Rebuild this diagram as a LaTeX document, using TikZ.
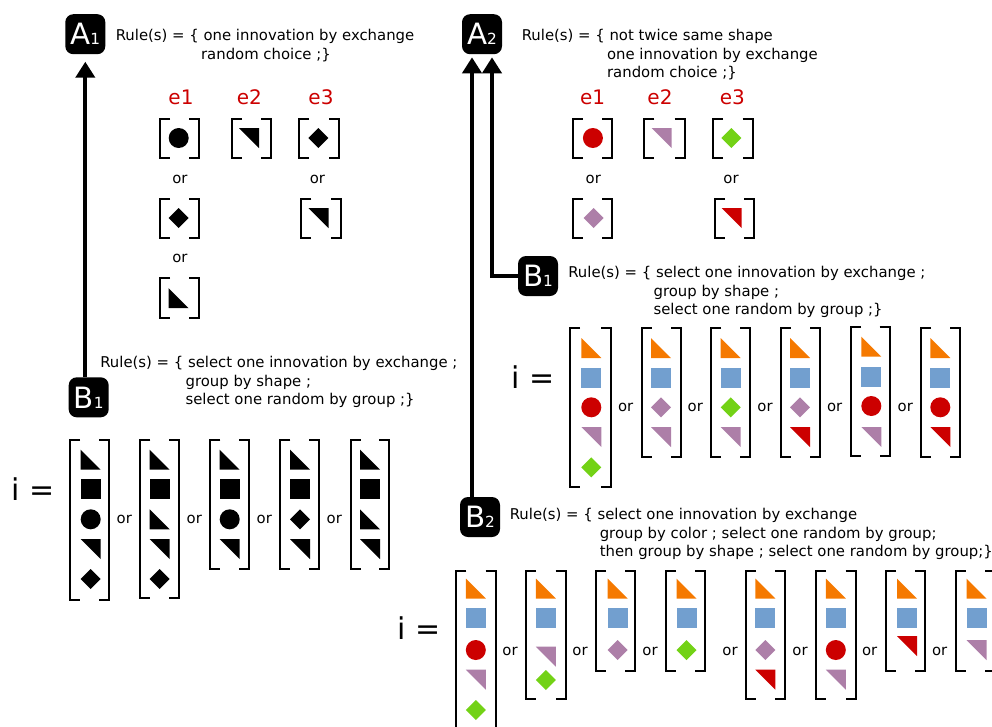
\documentclass[tikz,border=0pt]{standalone}
\usepackage{fontspec}
\setmainfont{DejaVu Sans}
\usepackage{tikz}
\usetikzlibrary{arrows.meta,positioning}
\definecolor{cOrange}{HTML}{F57900}
\definecolor{cBlue}{HTML}{729FCF}
\definecolor{cRed}{HTML}{CC0000}
\definecolor{cPurple}{HTML}{AD7FA8}
\definecolor{cGreen}{HTML}{73D216}
\newcommand{\idx}[1]{{\fontsize{11.5}{11.5}\selectfont #1}}
\tikzstyle{badge} = [rectangle, rounded corners=6pt, minimum size=30pt, inner sep=0pt, fill=black, text=white, font=\fontsize{22}{22}\selectfont]
\tikzstyle{rule} = [anchor=north west, align=left, inner sep=0pt, font=\fontsize{11.15}{13.9}\selectfont]
\tikzstyle{ortext} = [inner sep=0pt, font=\fontsize{11.15}{13.9}\selectfont]
\tikzstyle{elabel} = [inner sep=0pt, text=cRed, font=\fontsize{15}{15}\selectfont]
\tikzstyle{ilabel} = [inner sep=0pt, font=\fontsize{22.5}{22.5}\selectfont]
\tikzstyle{arrow} = [line width=3pt, -{Triangle[width=14.25pt,length=12pt]}]
\tikzstyle{bracket} = [line width=1.5pt]
\tikzstyle{blk} = [fill=black]
\tikzstyle{org} = [fill=cOrange]
\tikzstyle{blu} = [fill=cBlue]
\tikzstyle{red} = [fill=cRed]
\tikzstyle{pur} = [fill=cPurple]
\tikzstyle{grn} = [fill=cGreen]
\tikzset{
  tria/.pic={\path[pic actions] (-10,-10) -- (-10,10) -- (10,10) -- cycle;},
  trib/.pic={\path[pic actions] (-10,-10) -- (10,-10) -- (10,10) -- cycle;},
  sqr/.pic={\path[pic actions] (-10,-10) rectangle (10,10);},
  dot/.pic={\path[pic actions] (0,0) circle (7.5pt);},
  dia/.pic={\path[pic actions] (-10,0) -- (0,-10) -- (10,0) -- (0,10) -- cycle;}
}
\newcommand{\brk}[4]{%
  \draw [bracket] (#1+11,#2+1) -- (#1+1,#2+1) -- (#1+1,#4-1) -- (#1+11,#4-1);
  \draw [bracket] (#3-11,#2+1) -- (#3-1,#2+1) -- (#3-1,#4-1) -- (#3-11,#4-1);
}
\begin{document}
\begin{tikzpicture}[x=0.75pt, y=-0.75pt]
\useasboundingbox (0,0) rectangle (992,726);
\clip (0,0) rectangle (992,726);

\node (Aone) [badge] at (85.3,34.2) {A\idx{1}};
\node (Atwo) [badge] at (482,34.2) {A\idx{2}};
\node (BoneL) [badge] at (88.7,397.3) {B\idx{1}};
\node (BoneR) [badge] at (538,276) {B\idx{1}};
\node (Btwo) [badge] at (480,517) {B\idx{2}};
\coordinate (AtwoL) at (472,57.3);
\coordinate (AtwoR) at (492,57.3);
\coordinate (AoneS) at (85.3,61.7);

\draw [arrow] (BoneL.north -| AoneS) -- (AoneS);
\draw [arrow] (Btwo.north -| AtwoL) -- (AtwoL);
\draw [arrow] (BoneR.west) -| (AtwoR);

\node (ruleAone) [rule] at (115.5,29) {Rule(s) = \{ one innovation by exchange\\\hspace*{64pt}random choice ;\}};
\node (ruleAtwo) [rule] at (521.5,29) {Rule(s) = \{ not twice same shape\\\hspace*{64pt}one innovation by exchange\\\hspace*{64pt}random choice ;\}};
\node (ruleBoneL) [rule] at (100,356) {Rule(s) = \{ select one innovation by exchange ;\\\hspace*{64pt}group by shape ;\\\hspace*{64pt}select one random by group ;\}};
\node (ruleBoneR) [rule] at (568,266) {Rule(s) = \{ select one innovation by exchange ;\\\hspace*{64pt}group by shape ;\\\hspace*{64pt}select one random by group ;\}};
\node (ruleBtwo) [rule] at (509.5,508) {Rule(s) = \{ select one innovation by exchange\\\hspace*{67.5pt}group by color ; select one random by group;\\\hspace*{67.5pt}then group by shape ; select one random by group;\}};

% top left
\node (eoneL) [elabel] at (181,97) {e1};
\node (etwoL) [elabel] at (249.3,97) {e2};
\node (ethreeL) [elabel] at (321,97) {e3};
\brk{159}{117.7}{200.3}{158.7}
\brk{231}{117.7}{272}{158.7}
\brk{298}{117.7}{340}{158.7}
\brk{159}{197.7}{200.3}{238.7}
\brk{300.3}{197.7}{342}{238.7}
\brk{159}{277.3}{200.3}{318.7}
\pic [blk] at (178.7,138) {dot};
\pic [blk] at (249,138) {trib};
\pic [blk] at (318.3,138) {dia};
\pic [blk] at (178.7,218) {dia};
\pic [blk] at (318.5,218) {trib};
\pic [blk] at (178.5,298) {tria};
\node (orLa) [ortext] at (180,179) {or};
\node (orLb) [ortext] at (317.5,179) {or};
\node (orLc) [ortext] at (180,258) {or};

% bottom left
\node (iL) [ilabel] at (33,489) {i =};
\brk{69}{439.3}{110}{600.7}
\brk{139.3}{438.7}{180.3}{599.3}
\brk{209.3}{438.7}{250.3}{569.7}
\brk{279.3}{438.7}{320.3}{569.7}
\brk{349.7}{438.7}{390.3}{569.7}
\pic [blk] at (90.7,459.7) {tria};
\pic [blk] at (90.7,489.3) {sqr};
\pic [blk] at (90.7,519.3) {dot};
\pic [blk] at (90.7,549) {trib};
\pic [blk] at (90.7,579) {dia};
\pic [blk] at (159.7,459.7) {tria};
\pic [blk] at (159.7,489.3) {sqr};
\pic [blk] at (159.7,519.3) {tria};
\pic [blk] at (159.7,549) {trib};
\pic [blk] at (159.7,579) {dia};
\pic [blk] at (229.7,459.7) {tria};
\pic [blk] at (229.7,489.3) {sqr};
\pic [blk] at (229.7,519.3) {dot};
\pic [blk] at (229.7,549) {trib};
\pic [blk] at (300,459.7) {tria};
\pic [blk] at (300,489.3) {sqr};
\pic [blk] at (300,519.3) {dia};
\pic [blk] at (300,549) {trib};
\pic [blk] at (370,459.7) {tria};
\pic [blk] at (370,489.3) {sqr};
\pic [blk] at (370,519.3) {tria};
\pic [blk] at (370,549) {trib};
\node (orBa) [ortext] at (124.3,519.5) {or};
\node (orBb) [ortext] at (194.3,519.5) {or};
\node (orBc) [ortext] at (264.3,519.5) {or};
\node (orBd) [ortext] at (334.3,519.5) {or};

% top right
\node (eoneR) [elabel] at (592.6,97) {e1};
\node (etwoR) [elabel] at (660,97) {e2};
\node (ethreeR) [elabel] at (732.4,97) {e3};
\brk{571.8}{117.7}{613.3}{158.7}
\brk{643.4}{117.7}{685.6}{158.7}
\brk{712}{117.7}{753.5}{158.7}
\brk{571.8}{197.7}{613.3}{238.7}
\brk{714}{197.7}{755.2}{238.7}
\pic [red] at (592.9,138) {dot};
\pic [pur] at (661.6,138) {trib};
\pic [grn] at (731.3,138) {dia};
\pic [pur] at (593.6,218) {dia};
\pic [red] at (731.7,218) {trib};
\node (orRa) [ortext] at (593.3,179) {or};
\node (orRb) [ortext] at (731,179) {or};

% middle right
\node (iM) [ilabel] at (532.7,377) {i =};
\brk{569}{327.3}{612}{488}
\brk{640.7}{327.3}{682}{457.7}
\brk{710}{327.3}{751.3}{457.7}
\brk{779.7}{327.3}{821}{457.7}
\brk{850}{326}{890.7}{457}
\brk{920}{327.3}{961.3}{457.7}
\pic [org] at (591.3,348) {tria};
\pic [blu] at (591.3,377.7) {sqr};
\pic [red] at (591.3,407.3) {dot};
\pic [pur] at (591.3,437) {trib};
\pic [grn] at (591.3,467.3) {dia};
\pic [org] at (661,348) {tria};
\pic [blu] at (661,377.7) {sqr};
\pic [pur] at (661,407.3) {dia};
\pic [pur] at (661,437) {trib};
\pic [org] at (730.7,348) {tria};
\pic [blu] at (730.7,377.7) {sqr};
\pic [grn] at (730.7,407.3) {dia};
\pic [pur] at (730.7,437) {trib};
\pic [org] at (800,348) {tria};
\pic [blu] at (800,377.7) {sqr};
\pic [pur] at (800,407.3) {dia};
\pic [red] at (800,437) {trib};
\pic [org] at (871.3,346.7) {tria};
\pic [blu] at (871.3,377.3) {sqr};
\pic [red] at (871.3,406) {dot};
\pic [pur] at (871.3,437) {trib};
\pic [org] at (940.3,348) {tria};
\pic [blu] at (940.3,377.7) {sqr};
\pic [red] at (940.3,407.3) {dot};
\pic [red] at (940.3,437) {trib};
\node (orMa) [ortext] at (625.7,407.5) {or};
\node (orMb) [ortext] at (695.3,407.5) {or};
\node (orMc) [ortext] at (765,407.5) {or};
\node (orMd) [ortext] at (834.7,407.5) {or};
\node (orMe) [ortext] at (905.3,407.5) {or};

% bottom right
\node (iB) [ilabel] at (419,628) {i =};
\brk{455.4}{570}{496.5}{732}
\brk{525}{570}{566.5}{700}
\brk{595}{570}{636}{672.3}
\brk{665}{570}{706}{672.3}
\brk{745}{570}{786}{700}
\brk{815}{570}{856.5}{700}
\brk{885}{570}{926}{672.3}
\brk{954.6}{570}{996}{672.3}
\pic [org] at (475.8,588.5) {tria};
\pic [blu] at (475.8,618) {sqr};
\pic [red] at (475.8,650) {dot};
\pic [pur] at (475.8,679.7) {trib};
\pic [grn] at (475.8,710) {dia};
\pic [org] at (545.8,588.5) {tria};
\pic [blu] at (545.8,618) {sqr};
\pic [pur] at (545.8,656.7) {trib};
\pic [grn] at (545.8,680) {dia};
\pic [org] at (617.7,588.5) {tria};
\pic [blu] at (617.7,618) {sqr};
\pic [pur] at (617.7,650) {dia};
\pic [org] at (686.5,588.5) {tria};
\pic [blu] at (686.5,618) {sqr};
\pic [grn] at (686.5,650) {dia};
\pic [org] at (765.4,588.5) {tria};
\pic [blu] at (765.4,618) {sqr};
\pic [pur] at (765.4,650) {dia};
\pic [red] at (765.4,679.7) {trib};
\pic [org] at (835.8,588.5) {tria};
\pic [blu] at (835.8,618) {sqr};
\pic [red] at (835.8,650) {dot};
\pic [pur] at (835.8,679.7) {trib};
\pic [org] at (907,588.5) {tria};
\pic [blu] at (907,618) {sqr};
\pic [red] at (907,646) {trib};
\pic [org] at (976.5,588.5) {tria};
\pic [blu] at (976.5,618) {sqr};
\pic [pur] at (976.5,650) {trib};
\node (orBRa) [ortext] at (510,651.5) {or};
\node (orBRb) [ortext] at (580,651.5) {or};
\node (orBRc) [ortext] at (650,651.5) {or};
\node (orBRd) [ortext] at (730,651.5) {or};
\node (orBRe) [ortext] at (800,651.5) {or};
\node (orBRf) [ortext] at (869.6,651.5) {or};
\node (orBRg) [ortext] at (939.6,651.5) {or};

\end{tikzpicture}
\end{document}
